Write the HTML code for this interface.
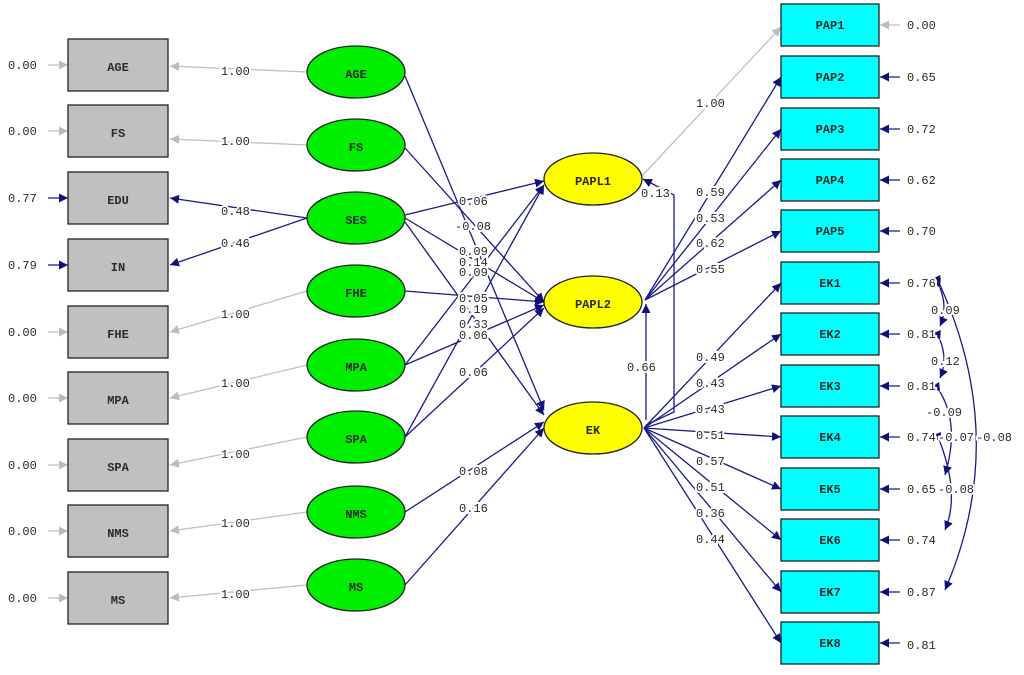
<!DOCTYPE html>
<html><head><meta charset="utf-8"><style>
html,body{margin:0;padding:0;background:#fff;}
svg{display:block;}
text{font-family:"Liberation Mono",monospace;font-size:12px;fill:#2a2a2a;}
.l{paint-order:stroke;stroke:#fff;stroke-width:4px;}
.n{font-size:14px;fill:#111;text-anchor:middle;font-weight:bold;}
.nv{stroke:#1a1a8a;stroke-width:1.3;fill:none;}
.gr{stroke:#c0c0c0;stroke-width:1.3;fill:none;}
</style></head><body>
<svg width="1024" height="675" viewBox="0 0 1024 675" xmlns="http://www.w3.org/2000/svg">
<defs>
<marker id="a" viewBox="0 0 10 10" refX="10" refY="5" markerWidth="9" markerHeight="9" orient="auto" markerUnits="userSpaceOnUse"><path d="M0,0L10,5L0,10z" fill="#10107a"/></marker>
<marker id="g" viewBox="0 0 10 10" refX="10" refY="5" markerWidth="9" markerHeight="9" orient="auto" markerUnits="userSpaceOnUse"><path d="M0,0L10,5L0,10z" fill="#bbb"/></marker>
</defs>
<g class="gr" marker-end="url(#g)">
<line x1="307" y1="72" x2="170" y2="66"/>
<line x1="307" y1="145" x2="170" y2="139"/>
<line x1="307" y1="291" x2="170" y2="332"/>
<line x1="307" y1="365" x2="170" y2="398"/>
<line x1="307" y1="437" x2="170" y2="465"/>
<line x1="307" y1="512" x2="170" y2="531"/>
<line x1="307" y1="585" x2="170" y2="598"/>
<line x1="48" y1="65" x2="68" y2="65"/><line x1="48" y1="131" x2="68" y2="131"/>
<line x1="48" y1="332" x2="68" y2="332"/><line x1="48" y1="398" x2="68" y2="398"/>
<line x1="48" y1="465" x2="68" y2="465"/><line x1="48" y1="531" x2="68" y2="531"/>
<line x1="48" y1="598" x2="68" y2="598"/>
<line x1="642" y1="176" x2="781" y2="27"/>
<line x1="900" y1="25" x2="880" y2="25"/>
</g>
<g class="nv" marker-end="url(#a)">
<line x1="307" y1="218" x2="170" y2="198"/>
<line x1="307" y1="218" x2="170" y2="265"/>
<line x1="48" y1="198" x2="68" y2="198"/><line x1="48" y1="265" x2="68" y2="265"/>
<line x1="405" y1="76" x2="544" y2="410"/>
<line x1="405" y1="148" x2="544" y2="302"/>
<line x1="405" y1="215" x2="544" y2="181"/>
<line x1="405" y1="218" x2="544" y2="302"/>
<line x1="405" y1="222" x2="544" y2="415"/>
<line x1="405" y1="291" x2="544" y2="302"/>
<line x1="405" y1="365" x2="544" y2="185"/>
<line x1="405" y1="365" x2="544" y2="305"/>
<line x1="405" y1="437" x2="544" y2="185"/>
<line x1="405" y1="437" x2="544" y2="308"/>
<line x1="405" y1="512" x2="544" y2="422"/>
<line x1="405" y1="585" x2="544" y2="428"/>
<line x1="645" y1="300" x2="781" y2="77"/>
<line x1="645" y1="300" x2="781" y2="129"/>
<line x1="645" y1="300" x2="781" y2="180"/>
<line x1="645" y1="300" x2="781" y2="231"/>
<line x1="646" y1="420" x2="646" y2="304"/>
<polyline points="646,425 674,412 674,195 643,179"/>
<line x1="644" y1="428" x2="781" y2="283"/>
<line x1="644" y1="428" x2="781" y2="334"/>
<line x1="644" y1="428" x2="781" y2="386"/>
<line x1="644" y1="428" x2="781" y2="437"/>
<line x1="644" y1="428" x2="781" y2="489"/>
<line x1="644" y1="428" x2="781" y2="540"/>
<line x1="644" y1="428" x2="781" y2="592"/>
<line x1="644" y1="428" x2="781" y2="643"/>
<line x1="900" y1="77" x2="880" y2="77"/><line x1="900" y1="129" x2="880" y2="129"/>
<line x1="900" y1="180" x2="880" y2="180"/><line x1="900" y1="231" x2="880" y2="231"/>
<line x1="900" y1="283" x2="880" y2="283"/><line x1="900" y1="334" x2="880" y2="334"/>
<line x1="900" y1="386" x2="880" y2="386"/><line x1="900" y1="437" x2="880" y2="437"/>
<line x1="900" y1="489" x2="880" y2="489"/><line x1="900" y1="540" x2="880" y2="540"/>
<line x1="900" y1="592" x2="880" y2="592"/><line x1="900" y1="643" x2="880" y2="643"/>
</g>
<g class="nv" marker-start="url(#a)" marker-end="url(#a)">
<path d="M940,288 Q948,308 940,326" />
<path d="M940,340 Q948,360 940,378" />
<path d="M940,392 Q960,425 945,475" />
<path d="M940,442 Q960,495 945,530" />
<path d="M940,285 Q1010,440 945,590" />
</g>
<g fill="#c0c0c0" stroke="#222" stroke-width="1.3">
<rect x="68" y="39" width="100" height="52"/><rect x="68" y="105" width="100" height="52"/>
<rect x="68" y="172" width="100" height="52"/><rect x="68" y="239" width="100" height="52"/>
<rect x="68" y="306" width="100" height="52"/><rect x="68" y="372" width="100" height="52"/>
<rect x="68" y="439" width="100" height="52"/><rect x="68" y="505" width="100" height="52"/>
<rect x="68" y="572" width="100" height="52"/>
</g>
<g fill="#00ee00" stroke="#222" stroke-width="1.3">
<ellipse cx="356" cy="72" rx="49" ry="26"/><ellipse cx="356" cy="145" rx="49" ry="26"/>
<ellipse cx="356" cy="218" rx="49" ry="26"/><ellipse cx="356" cy="291" rx="49" ry="26"/>
<ellipse cx="356" cy="365" rx="49" ry="26"/><ellipse cx="356" cy="437" rx="49" ry="26"/>
<ellipse cx="356" cy="512" rx="49" ry="26"/><ellipse cx="356" cy="585" rx="49" ry="26"/>
</g>
<g fill="#ffff00" stroke="#222" stroke-width="1.3">
<ellipse cx="593" cy="179" rx="49" ry="26"/><ellipse cx="593" cy="302" rx="49" ry="26"/>
<ellipse cx="593" cy="428" rx="49" ry="26"/>
</g>
<g fill="#00ffff" stroke="#222" stroke-width="1.3">
<rect x="781" y="4" width="98" height="42"/><rect x="781" y="56" width="98" height="42"/>
<rect x="781" y="108" width="98" height="42"/><rect x="781" y="159" width="98" height="42"/>
<rect x="781" y="210" width="98" height="42"/><rect x="781" y="262" width="98" height="42"/>
<rect x="781" y="313" width="98" height="42"/><rect x="781" y="365" width="98" height="42"/>
<rect x="781" y="416" width="98" height="42"/><rect x="781" y="468" width="98" height="42"/>
<rect x="781" y="519" width="98" height="42"/><rect x="781" y="571" width="98" height="42"/>
<rect x="781" y="622" width="98" height="42"/>
</g>
<g class="n">
<text x="118" y="71">AGE</text><text x="118" y="137">FS</text><text x="118" y="204">EDU</text>
<text x="118" y="271">IN</text><text x="118" y="338">FHE</text><text x="118" y="404">MPA</text>
<text x="118" y="471">SPA</text><text x="118" y="537">NMS</text><text x="118" y="604">MS</text>
<text x="356" y="78">AGE</text><text x="356" y="151">FS</text><text x="356" y="224">SES</text>
<text x="356" y="297">FHE</text><text x="356" y="371">MPA</text><text x="356" y="443">SPA</text>
<text x="356" y="518">NMS</text><text x="356" y="591">MS</text>
<text x="593" y="185">PAPL1</text><text x="593" y="308">PAPL2</text><text x="593" y="434">EK</text>
</g>
<g class="n" style="font-size:11px">
<text x="830" y="29">PAP1</text><text x="830" y="81">PAP2</text><text x="830" y="133">PAP3</text>
<text x="830" y="184">PAP4</text><text x="830" y="235">PAP5</text><text x="830" y="287">EK1</text>
<text x="830" y="338">EK2</text><text x="830" y="390">EK3</text><text x="830" y="441">EK4</text>
<text x="830" y="493">EK5</text><text x="830" y="544">EK6</text><text x="830" y="596">EK7</text>
<text x="830" y="647">EK8</text>
</g>
<g class="l">
<text x="8" y="69">0.00</text><text x="8" y="135">0.00</text><text x="8" y="202">0.77</text>
<text x="8" y="269">0.79</text><text x="8" y="336">0.00</text><text x="8" y="402">0.00</text>
<text x="8" y="469">0.00</text><text x="8" y="535">0.00</text><text x="8" y="602">0.00</text>
<text x="221" y="75">1.00</text><text x="221" y="145">1.00</text><text x="221" y="215">0.48</text>
<text x="221" y="247">0.46</text><text x="221" y="318">1.00</text><text x="221" y="387">1.00</text>
<text x="221" y="458">1.00</text><text x="221" y="527">1.00</text><text x="221" y="598">1.00</text>
<text x="459" y="205">0.06</text><text x="455" y="230">-0.08</text><text x="459" y="255">0.09</text>
<text x="459" y="266">0.14</text><text x="459" y="276">0.09</text><text x="459" y="302">0.05</text>
<text x="459" y="313">0.19</text><text x="459" y="328">0.33</text><text x="459" y="339">0.06</text>
<text x="459" y="376">0.06</text><text x="459" y="475">0.08</text><text x="459" y="512">0.16</text>
<text x="696" y="107">1.00</text><text x="641" y="197">0.13</text>
<text x="696" y="196">0.59</text><text x="696" y="222">0.53</text><text x="696" y="247">0.62</text>
<text x="696" y="273">0.55</text><text x="627" y="371">0.66</text>
<text x="696" y="361">0.49</text><text x="696" y="387">0.43</text><text x="696" y="413">0.43</text>
<text x="696" y="439">0.51</text><text x="696" y="465">0.57</text><text x="696" y="491">0.51</text>
<text x="696" y="517">0.36</text><text x="696" y="543">0.44</text>
<text x="907" y="29">0.00</text><text x="907" y="81">0.65</text><text x="907" y="133">0.72</text>
<text x="907" y="184">0.62</text><text x="907" y="235">0.70</text><text x="907" y="287">0.76</text>
<text x="907" y="338">0.81</text><text x="907" y="390">0.81</text><text x="907" y="441">0.74</text>
<text x="907" y="493">0.65</text><text x="907" y="544">0.74</text><text x="907" y="596">0.87</text>
<text x="907" y="649">0.81</text>
<text x="931" y="314">0.09</text><text x="931" y="365">0.12</text><text x="926" y="416">-0.09</text>
<text x="938" y="441">-0.07</text><text x="976" y="441">-0.08</text><text x="938" y="493">-0.08</text>
</g>
</svg>
</body></html>
